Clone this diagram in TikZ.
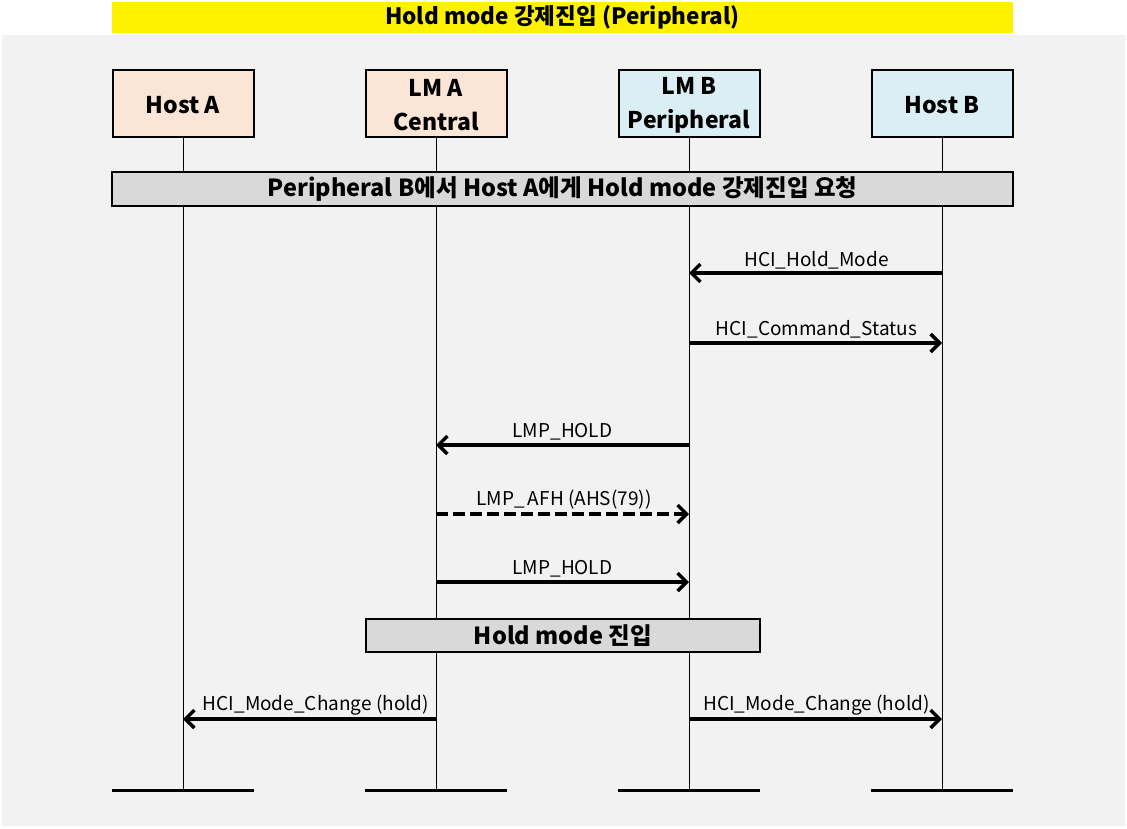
\documentclass[tikz,border=0pt]{standalone}
\usepackage{fontspec}
\setmainfont{Noto Sans CJK KR}
\usetikzlibrary{arrows.meta}
\definecolor{bg}{HTML}{F2F2F2}
\definecolor{peach}{HTML}{FBE5D6}
\definecolor{lblue}{HTML}{DAEEF3}
\definecolor{banner}{HTML}{D9D9D9}
\tikzset{
  actor/.style={draw=black, line width=2pt, minimum width=141pt, minimum height=67pt, inner sep=0pt},
  actortext/.style={font=\fontsize{23}{34}\selectfont\bfseries, align=center, inner sep=0pt, yshift=-2.5pt},
  bannerbox/.style={draw=black, line width=1.2pt, fill=banner, inner sep=0pt, font=\fontsize{23.5}{26}\selectfont\bfseries},
  lifeline/.style={line width=1pt},
  msg/.style={line width=3.5pt, -{Straight Barb[length=9pt,width=18pt,line width=3.5pt]}},
  lbl/.style={font=\fontsize{19}{22}\selectfont, inner sep=0pt, anchor=south},
  baseline/.style={line width=3pt}
}
\begin{document}
\begin{tikzpicture}[x=1pt,y=-1pt]
\useasboundingbox (0,0) rectangle (1127,828);
\fill[white] (0,0) rectangle (1127,828);
\fill[bg] (2,35) rectangle (1125,826);
\node[fill=yellow, minimum width=901pt, minimum height=31pt, inner sep=0pt, font=\fontsize{22.5}{26}\selectfont\bfseries] (title) at (562.5,17.5) {Hold mode 강제진입 (Peripheral)};

\node[actor, fill=peach, label={[actortext]center:{Host A}}] (ha) at (183,103) {};
\node[actor, fill=peach, label={[actortext]center:{LM A\\Central}}] (la) at (436,103) {};
\node[actor, fill=lblue, label={[actortext]center:{LM B\\Peripheral}}] (lb) at (689,103) {};
\node[actor, fill=lblue, label={[actortext]center:{Host B}}] (hb) at (942,103) {};

\coordinate (ha0) at (183,790);
\coordinate (la0) at (436,790);
\coordinate (lb0) at (689,790);
\coordinate (hb0) at (942,790);

\draw[lifeline] (ha.south) -- (ha0);
\draw[lifeline] (la.south) -- (la0);
\draw[lifeline] (lb.south) -- (lb0);
\draw[lifeline] (hb.south) -- (hb0);

\draw[baseline] (112,790) -- (254,790);
\draw[baseline] (365,790) -- (507,790);
\draw[baseline] (618,790) -- (760,790);
\draw[baseline] (871,790) -- (1013,790);

\node[bannerbox, minimum width=901pt, minimum height=34pt] (req) at (562.5,189) {Peripheral B에서 Host A에게 Hold mode 강제진입 요청};

% messages
\coordinate (m1s) at (942,273); \coordinate (m1e) at (689,273);
\draw[msg] (m1s) -- (m1e);
\node[lbl] (l1) at (816.5,269) {HCI\_Hold\_Mode};

\coordinate (m2s) at (689,343); \coordinate (m2e) at (942,343);
\draw[msg] (m2s) -- (m2e);
\node[lbl] (l2) at (816.5,338) {HCI\_Command\_Status};

\coordinate (m3s) at (689,445); \coordinate (m3e) at (436,445);
\draw[msg] (m3s) -- (m3e);
\node[lbl] (l3) at (562.5,440) {LMP\_HOLD};

\coordinate (m4s) at (436,514); \coordinate (m4e) at (689,514);
\draw[msg, dash pattern=on 12pt off 5pt] (m4s) -- (m4e);
\node[lbl] (l4) at (564,509) {LMP\_\,AFH (AHS(79))};

\coordinate (m5s) at (436,582); \coordinate (m5e) at (689,582);
\draw[msg] (m5s) -- (m5e);
\node[lbl] (l5) at (562.5,577) {LMP\_HOLD};

\node[bannerbox, minimum width=394pt, minimum height=33pt] (hm) at (563,635.5) {Hold mode 진입};

\coordinate (m6s) at (436,719); \coordinate (m6e) at (183,719);
\draw[msg] (m6s) -- (m6e);
\node[lbl] (l6) at (316,715) {HCI\_Mode\_Change (hold)};

\coordinate (m7s) at (689,719); \coordinate (m7e) at (942,719);
\draw[msg] (m7s) -- (m7e);
\node[lbl] (l7) at (816.5,715) {HCI\_Mode\_Change (hold)};
\end{tikzpicture}
\end{document}
